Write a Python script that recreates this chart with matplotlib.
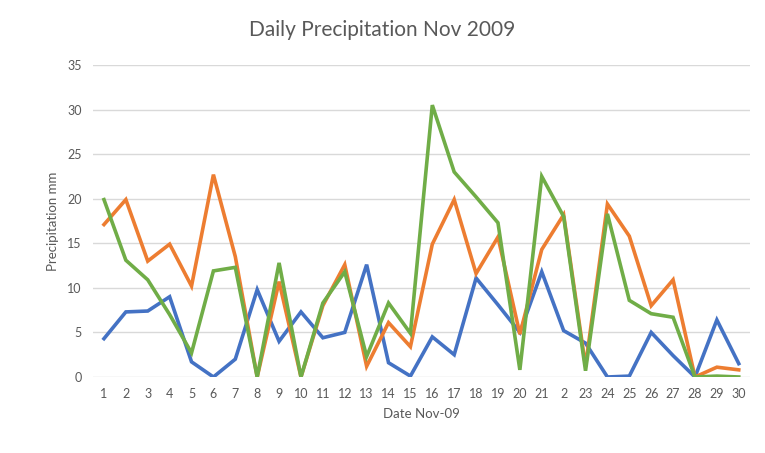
import matplotlib.pyplot as plt

plt.rcParams['font.family'] = ['Lato', 'DejaVu Sans']

days = list(range(1, 31))
day_labels = [str(d) for d in days]
day_labels[21] = '2'

series_a = [4.3, 7.3, 7.4, 9.0, 1.7, 0.0, 2.0, 9.8, 4.0, 7.3,
            4.4, 5.0, 12.6, 1.6, 0.1, 4.5, 2.5, 11.1, 8.1, 5.0,
            11.8, 5.2, 3.8, 0.0, 0.1, 5.0, 2.4, 0.0, 6.4, 1.5]
series_b = [17.1, 19.9, 13.0, 14.9, 10.2, 22.7, 13.5, 0.0, 10.7, 0.0,
            8.0, 12.6, 1.2, 6.1, 3.4, 14.9, 19.9, 11.6, 15.7, 4.8,
            14.3, 18.2, 1.2, 19.4, 15.8, 8.0, 10.9, 0.0, 1.1, 0.8]
series_c = [19.9, 13.1, 10.9, 7.0, 2.7, 11.9, 12.3, 0.0, 12.8, 0.0,
            8.3, 11.8, 2.3, 8.3, 4.9, 30.5, 23.0, 20.2, 17.3, 0.8,
            22.5, 18.0, 0.7, 18.3, 8.6, 7.1, 6.7, 0.0, 0.1, 0.0]

fig = plt.figure(figsize=(7.65, 4.53), dpi=100)
ax = fig.add_axes([0.1216, 0.1678, 0.8584, 0.6887])

ax.plot(days, series_a, color='#4472C4', lw=2.6, solid_joinstyle='miter')
ax.plot(days, series_b, color='#ED7D31', lw=2.6, solid_joinstyle='miter')
ax.plot(days, series_c, color='#70AD47', lw=2.6, solid_joinstyle='miter')

ax.set_xlim(0.5, 30.5)
ax.set_ylim(0, 35)
ax.set_yticks(range(0, 36, 5))
ax.set_xticks(days)
ax.set_xticklabels(day_labels)
ax.yaxis.grid(True, color='#D9D9D9', lw=1.0)
ax.set_axisbelow(True)
for s in ax.spines.values():
    s.set_visible(False)
ax.tick_params(length=0, colors='#595959', labelsize=9)
ax.tick_params(axis='y', pad=8)
ax.tick_params(axis='x', pad=8)

ax.set_xlabel('Date Nov-09', color='#595959', fontsize=9.5, labelpad=6)
ax.set_ylabel('Precipitation mm', color='#595959', fontsize=9.5, labelpad=6)
fig.suptitle('Daily Precipitation Nov 2009', color='#595959', fontsize=15, y=0.955)

fig.savefig('out.png', dpi=100)
